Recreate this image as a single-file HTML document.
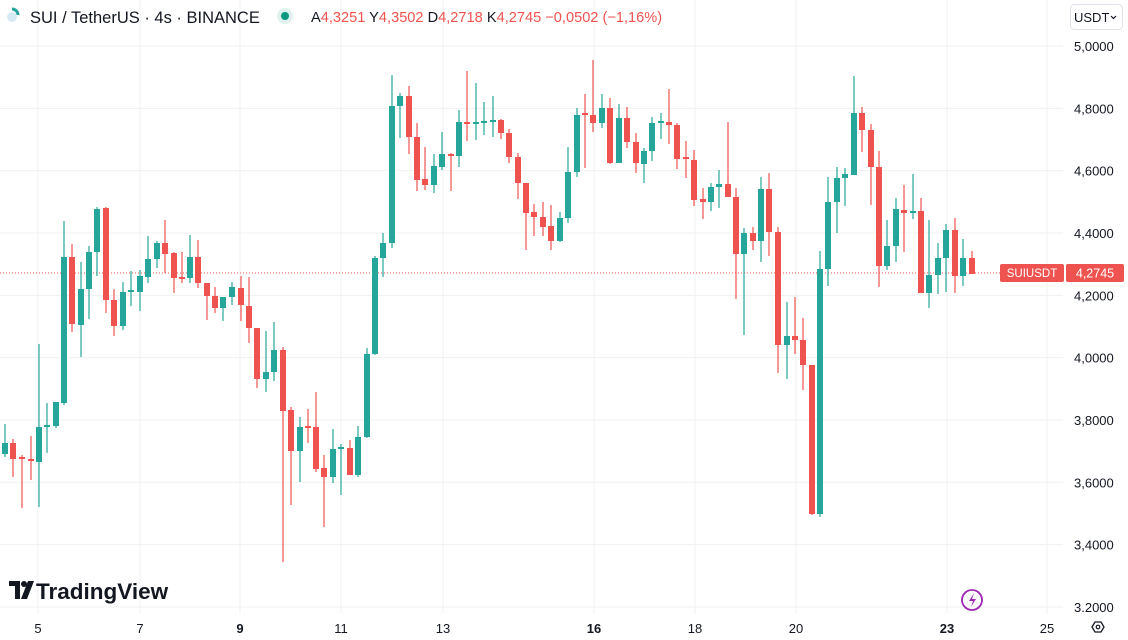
<!DOCTYPE html>
<html><head><meta charset="utf-8"><style>
html,body{margin:0;padding:0;background:#fff;width:1128px;height:640px;overflow:hidden;font-family:"Liberation Sans",sans-serif}
</style></head><body>
<svg id="s" width="1128" height="640" xmlns="http://www.w3.org/2000/svg" style="position:absolute;left:0;top:0">
<g id="grid" stroke="#f0f0f0" stroke-width="1"></g>
<line x1="0" y1="273" x2="1000" y2="273" stroke="#ef5350" stroke-width="1" stroke-dasharray="1,2"/>
<g id="c"></g>
<g font-size="13" fill="#131722" id="ylab"></g>
<g font-size="13" fill="#131722" text-anchor="middle">
<text x="38" y="633">5</text><text x="140" y="633">7</text><text x="240" y="633" font-weight="bold">9</text>
<text x="341" y="633">11</text><text x="443" y="633">13</text><text x="594" y="633" font-weight="bold">16</text>
<text x="695" y="633">18</text><text x="796" y="633">20</text><text x="947" y="633" font-weight="bold">23</text>
<text x="1047" y="633">25</text></g>
<rect x="1000" y="264" width="64" height="18" rx="2" fill="#ef5350"/>
<text x="1032" y="277" font-size="11.5" fill="#fff" text-anchor="middle">SUIUSDT</text>
<rect x="1066" y="264" width="58" height="18" rx="2" fill="#ef5350"/>
<text x="1095" y="277.5" font-size="12.5" fill="#fff" text-anchor="middle">4,2745</text>
<rect x="1070.5" y="4.5" width="52" height="25" rx="4" fill="#fff" stroke="#e0e3eb"/>
<text x="1074" y="22" font-size="13" fill="#131722">USDT</text>
<path d="M1111 16 l2.5 2.5 l2.5 -2.5" fill="none" stroke="#131722" stroke-width="1.2"/>
<circle cx="972" cy="600" r="10" fill="none" stroke="#9c27b0" stroke-width="1.8"/>
<path d="M974 593 l-5 8 h4 l-2 6 l5 -8 h-4 z" fill="#9c27b0"/>
<path d="M1092 627 l3 -5 h6 l3 5 l-3 5 h-6 z" fill="none" stroke="#131722" stroke-width="1.3"/>
<circle cx="1098" cy="627" r="1.8" fill="none" stroke="#131722" stroke-width="1.2"/>
<circle cx="12" cy="17" r="5" fill="#d6eaf5"/>
<path d="M12 9 a6 6 0 0 1 6 6" fill="none" stroke="#22a39a" stroke-width="3"/>
<text x="30" y="23" font-size="16.5" fill="#131722">SUI / TetherUS · 4s · BINANCE</text>
<circle cx="285" cy="16" r="8" fill="#dff2ef"/><circle cx="285" cy="16" r="4" fill="#089981"/>
<text x="311" y="22" font-size="14.6" fill="#131722">A<tspan fill="#ef5350">4,3251</tspan> Y<tspan fill="#ef5350">4,3502</tspan> D<tspan fill="#ef5350">4,2718</tspan> K<tspan fill="#ef5350">4,2745 −0,0502 (−1,16%)</tspan></text>
<g fill="#131722"><path d="M9 581 h11 v18 h-5 v-13 h-6 z"/><circle cx="24" cy="584" r="3"/><path d="M28 581 h6 l-7 18 h-6 z"/></g>
<text x="36" y="599" font-size="22.5" font-weight="bold" fill="#131722">TradingView</text>
</svg>
<script>
var g=document.getElementById('grid'),ns='http://www.w3.org/2000/svg';
function el(p,t,a){var e=document.createElementNS(ns,t);for(var k in a)e.setAttribute(k,a[k]);p.appendChild(e);return e;}
[38,140,240,341,443,594,695,796,947,1047].forEach(function(x){el(g,'line',{x1:x,y1:0,x2:x,y2:614});});
var yl=document.getElementById('ylab');
for(var i=0;i<10;i++){var p=5-i*0.2,y=46+i*62.33;el(g,'line',{x1:0,y1:y,x2:1063,y2:y});
var t=el(yl,'text',{x:1074,y:y+5});t.textContent=(i==9?'3.2000':p.toFixed(4).replace('.',','));}
var D=[[5,443,454,424,457,1],[13,443,459,439,477,0],[22,457,459,455,508,0],[31,459,461,436,480,0],[39,427,462,344,507,1],[47,425,427,403,453,1],[56,402,426,402,428,1],[64,257,403,221,405,1],[72,257,324,244,332,0],[81,289,325,262,357,1],[89,252,289,246,319,1],[97,209,252,207,276,1],[106,208,300,207,313,0],[114,300,326,289,336,0],[123,292,326,282,330,1],[131,290,292,271,306,1],[140,276,292,270,311,1],[148,259,277,236,283,1],[157,243,259,241,268,1],[165,243,254,220,273,0],[174,253,278,252,293,0],[182,277,279,252,283,0],[190,257,278,235,283,1],[198,257,283,240,288,0],[207,283,296,283,320,0],[215,296,308,287,313,0],[223,297,308,297,321,1],[232,287,297,282,305,1],[241,288,305,276,321,0],[249,306,328,277,343,0],[257,328,379,328,388,0],[266,372,379,331,392,1],[274,350,372,322,381,1],[283,350,411,347,562,0],[291,410,451,407,505,0],[300,427,451,417,482,1],[308,426,428,409,443,0],[316,427,469,392,472,0],[324,468,477,455,527,0],[333,449,477,429,483,1],[341,447,449,444,495,1],[350,448,475,440,475,0],[358,437,475,426,477,1],[367,354,437,348,438,1],[375,258,354,256,355,1],[383,243,258,233,277,1],[392,106,243,75,248,1],[400,96,106,93,138,1],[409,96,137,86,154,0],[417,137,180,123,191,0],[425,179,185,147,190,0],[434,166,185,154,193,1],[442,154,167,132,170,1],[451,154,156,153,191,0],[459,122,156,110,167,1],[467,122,124,71,141,0],[476,122,124,83,140,1],[484,121,123,102,135,1],[493,120,122,96,137,1],[501,120,133,119,139,0],[509,133,157,129,163,0],[518,157,183,153,199,0],[526,183,213,183,250,0],[534,212,217,204,236,0],[543,217,227,202,236,0],[551,226,241,205,250,0],[560,218,241,212,242,1],[568,172,218,147,223,1],[577,115,172,108,177,1],[585,113,115,94,168,0],[593,115,123,60,132,0],[602,108,123,94,128,1],[610,108,163,98,164,0],[619,118,163,104,163,1],[627,118,142,107,148,0],[636,142,163,133,173,0],[644,151,164,148,183,1],[652,123,151,117,161,1],[661,121,123,113,139,1],[669,122,125,89,144,0],[677,125,159,123,169,0],[686,157,159,141,178,0],[694,160,200,150,206,0],[703,199,202,188,219,0],[711,187,202,183,211,1],[719,184,187,170,208,1],[728,184,197,122,197,0],[736,197,254,188,299,0],[744,233,254,228,335,1],[753,233,241,227,250,0],[761,189,241,177,262,1],[769,189,232,173,256,0],[778,232,345,227,373,0],[787,336,345,302,379,1],[795,336,340,297,354,0],[803,340,365,318,390,0],[812,365,514,365,515,0],[820,269,514,251,517,1],[828,202,269,177,286,1],[837,178,202,167,233,1],[845,174,178,168,206,1],[854,113,175,76,175,1],[862,113,130,107,152,0],[871,130,167,124,205,0],[879,167,266,151,287,0],[887,246,266,220,270,1],[896,209,246,198,262,1],[904,210,213,185,252,0],[913,211,213,174,219,1],[921,211,293,198,293,0],[929,275,293,220,308,1],[938,258,275,243,294,1],[946,230,258,224,292,1],[955,230,276,218,293,0],[963,258,276,239,286,1],[972,258,274,251,274,0]];
var c=document.getElementById('c');
D.forEach(function(d){var col=d[5]?'#26a69a':'#ef5350';
el(c,'line',{x1:d[0],y1:d[3],x2:d[0],y2:d[4],stroke:col,'stroke-width':1.2});
el(c,'rect',{x:d[0]-3,y:d[1],width:6,height:Math.max(1.5,d[2]-d[1]),fill:col});});
</script>
</body></html>
